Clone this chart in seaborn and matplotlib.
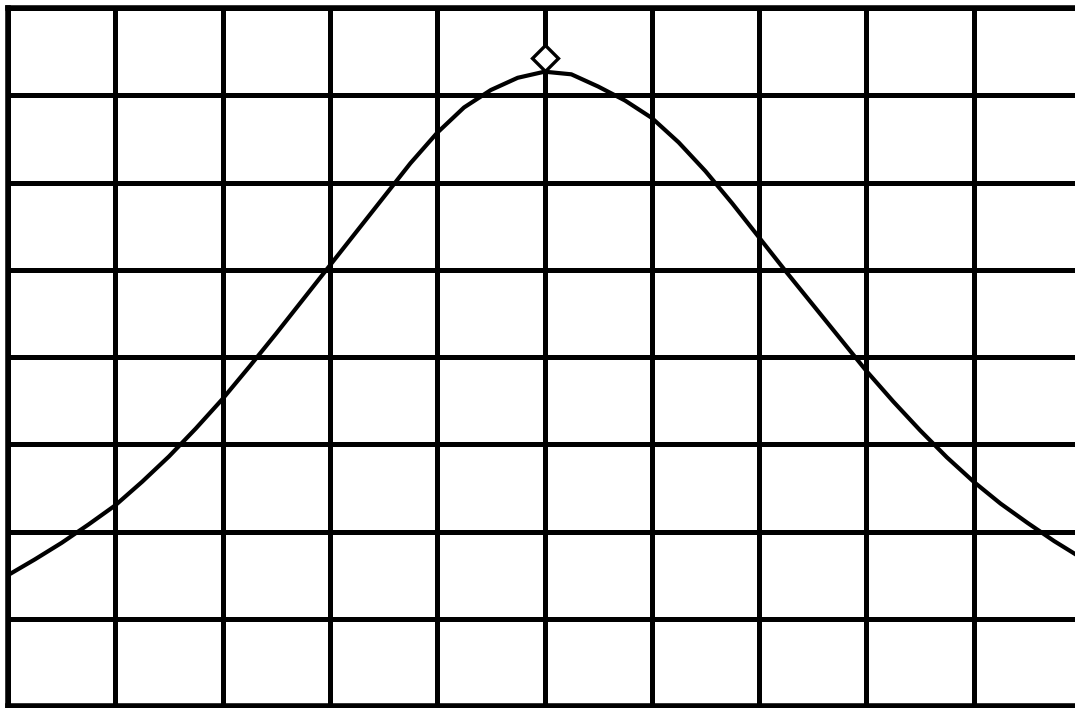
import numpy as np
import pandas as pd
import matplotlib
matplotlib.use("Agg")
import matplotlib.pyplot as plt
import seaborn as sns

# Trace, in grid divisions (10 across, 8 up)
trace_x = [0.0, 0.25, 0.5, 0.75, 1.0, 1.25, 1.5, 1.75, 2.0, 2.25, 2.5, 2.75,
           3.0, 3.25, 3.5, 3.75, 4.0, 4.25, 4.5, 4.75, 5.0, 5.25, 5.5, 5.75,
           6.0, 6.25, 6.5, 6.75, 7.0, 7.25, 7.5, 7.75, 8.0, 8.25, 8.5, 8.75,
           9.0, 9.25, 9.5, 9.75, 10.0]
trace_y = [1.50, 1.68, 1.87, 2.08, 2.30, 2.57, 2.86, 3.18, 3.52, 3.89, 4.27, 4.66,
           5.05, 5.44, 5.83, 6.22, 6.57, 6.86, 7.06, 7.20, 7.27, 7.24, 7.10, 6.94,
           6.74, 6.46, 6.13, 5.76, 5.37, 4.98, 4.60, 4.22, 3.84, 3.49, 3.16, 2.85,
           2.57, 2.32, 2.10, 1.89, 1.70]

# Peak marker
marker_x = [5.0]
marker_y = [7.43]

x_divs = list(range(0, 11))
y_divs = list(range(0, 9))

df = pd.DataFrame({"x": trace_x, "y": trace_y})

sns.set_style("white")

fig = plt.figure(figsize=(10.75, 7.08), dpi=100)
ax = fig.add_axes([8 / 1075, 2 / 708, 1073 / 1075, 698 / 708])

sns.lineplot(data=df, x="x", y="y", ax=ax, color="black", linewidth=3.0,
             sort=False, zorder=3)
ax.plot(marker_x, marker_y, marker="D", markersize=13, markerfacecolor="white",
        markeredgecolor="black", markeredgewidth=2.4, linestyle="none", zorder=4)

ax.set_xlim(x_divs[0], x_divs[-1])
ax.set_ylim(y_divs[0], y_divs[-1])
ax.set_xticks(x_divs)
ax.set_yticks(y_divs)
ax.grid(True, color="black", linewidth=3.6)
ax.set_axisbelow(True)
ax.tick_params(length=0, labelbottom=False, labelleft=False)
ax.set_xlabel("")
ax.set_ylabel("")
for spine in ax.spines.values():
    spine.set_visible(True)
    spine.set_color("black")
    spine.set_linewidth(4.0)

fig.savefig("out.png", dpi=100, facecolor="white")
plt.close(fig)
